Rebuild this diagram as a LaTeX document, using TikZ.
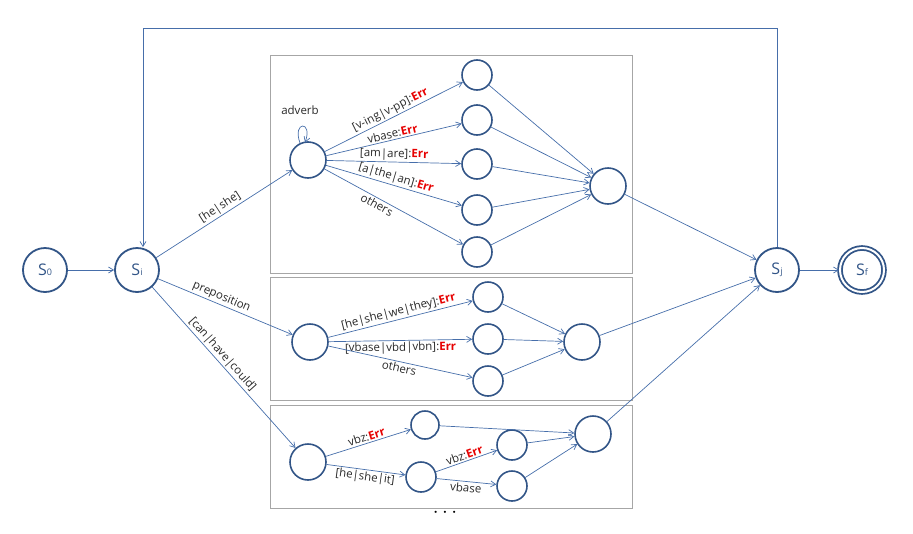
\documentclass[tikz,border=0pt]{standalone}
\usepackage{fontspec}
\setmainfont{Open Sans}
\usetikzlibrary{arrows.meta}
\definecolor{edge}{RGB}{70,110,170}
\definecolor{circ}{RGB}{50,85,135}
\definecolor{txt}{RGB}{40,40,40}
\definecolor{errc}{RGB}{230,0,0}
\newcommand{\err}{\textcolor{errc}{\textbf{Err}}}
\begin{document}
\begin{tikzpicture}[x=1pt,y=-1pt,
  st/.style={circle,draw=circ,line width=1.8pt,minimum size=#1,inner sep=0pt,text=circ,font=\fontsize{16}{16}\selectfont},
  st/.default=44pt,
  sm/.style={circle,draw=circ,line width=1.6pt,minimum size=#1,inner sep=0pt},
  sm/.default=30pt,
  e/.style={draw=edge,line width=0.7pt,-{Straight Barb[length=5pt,width=6pt]}},
  lb/.style={font=\fontsize{11.5}{11.5}\selectfont,text=txt,sloped,inner sep=1.5pt},
  box/.style={draw=gray!70,line width=1pt}]
\useasboundingbox (0,0) rectangle (913,533);
\draw[box] (270,55) rectangle (632,273);
\draw[box] (270,277) rectangle (632,400);
\draw[box] (270,405) rectangle (632,508);
\node[st] (s0) at (45,270) {S{\small 0}};
\node[st] (si) at (137,270) {S{\small i}};
\node[st] (sj) at (777,270) {S{\small j}};
\node[st,double,double distance=2pt] (sf) at (862,270) {S{\small f}};
% box1
\node[sm=36pt] (a) at (308,160) {};
\node[sm] (a1) at (477,75) {};
\node[sm] (a2) at (477,120) {};
\node[sm] (a3) at (477,164) {};
\node[sm] (a4) at (477,210) {};
\node[sm] (a5) at (477,252) {};
\node[sm=36pt] (am) at (608,186) {};
% box2
\node[sm=36pt] (b) at (310,342) {};
\node[sm] (b1) at (488,297) {};
\node[sm] (b2) at (488,339) {};
\node[sm] (b3) at (488,381) {};
\node[sm=36pt] (bm) at (582,342) {};
% box3
\node[sm=36pt] (c) at (308,462) {};
\node[sm=28pt] (c1) at (425,425) {};
\node[sm] (c2) at (421,477) {};
\node[sm] (c3) at (512,445) {};
\node[sm] (c4) at (512,486) {};
\node[sm=36pt] (cm) at (593,434) {};
\node[font=\fontsize{20}{20}\selectfont\bfseries,text=black] (dots) at (445,513) {$\cdots$};
% main edges
\draw[e] (s0) -- (si);
\draw[e] (sj) -- (sf);
\draw[e] (si) -- node[lb,above]{[he|she]} (a);
\draw[e] (si) -- node[lb,above,pos=0.45]{preposition} (b);
\draw[e] (si) -- node[lb,above,pos=0.45]{[can|have|could]} (c);
\coordinate (t1) at (777,28);
\coordinate (t2) at (143,28);
\draw[e] (sj.north) -- (t1) -- (t2) -- (si.north -| t2);
\draw[e] (am) -- (sj);
\draw[e] (bm) -- (sj);
\draw[e] (cm) -- (sj);
% box1 edges
\coordinate (lp) at (300,143);
\draw[e] (lp) to[out=110,in=70,looseness=12] (305,142.5);
\node[font=\fontsize{11.5}{11.5}\selectfont,text=txt] (adv) at (300,110) {adverb};
\draw[e] (a) -- node[lb,above]{[v-ing|v-pp]:\err} (a1);
\draw[e] (a) -- node[lb,above]{vbase:\err} (a2);
\draw[e] (a) -- node[lb,above]{[am|are]:\err} (a3);
\draw[e] (a) -- node[lb,above]{[a|the|an]:\err} (a4);
\draw[e] (a) -- node[lb,below,pos=0.4]{others} (a5);
\foreach \n in {a1,a2,a3,a4,a5} \draw[e] (\n) -- (am);
% box2
\draw[e] (b) -- node[lb,above]{[he|she|we|they]:\err} (b1);
\draw[e] (b) -- node[lb,below]{[vbase|vbd|vbn]:\err} (b2);
\draw[e] (b) -- node[lb,below]{others} (b3);
\foreach \n in {b1,b2,b3} \draw[e] (\n) -- (bm);
% box3
\draw[e] (c) -- node[lb,above]{vbz:\err} (c1);
\draw[e] (c) -- node[lb,below]{[he|she|it]} (c2);
\draw[e] (c2) -- node[lb,above]{vbz:\err} (c3);
\draw[e] (c2) -- node[lb,below]{vbase} (c4);
\foreach \n in {c1,c3,c4} \draw[e] (\n) -- (cm);
\end{tikzpicture}
\end{document}
